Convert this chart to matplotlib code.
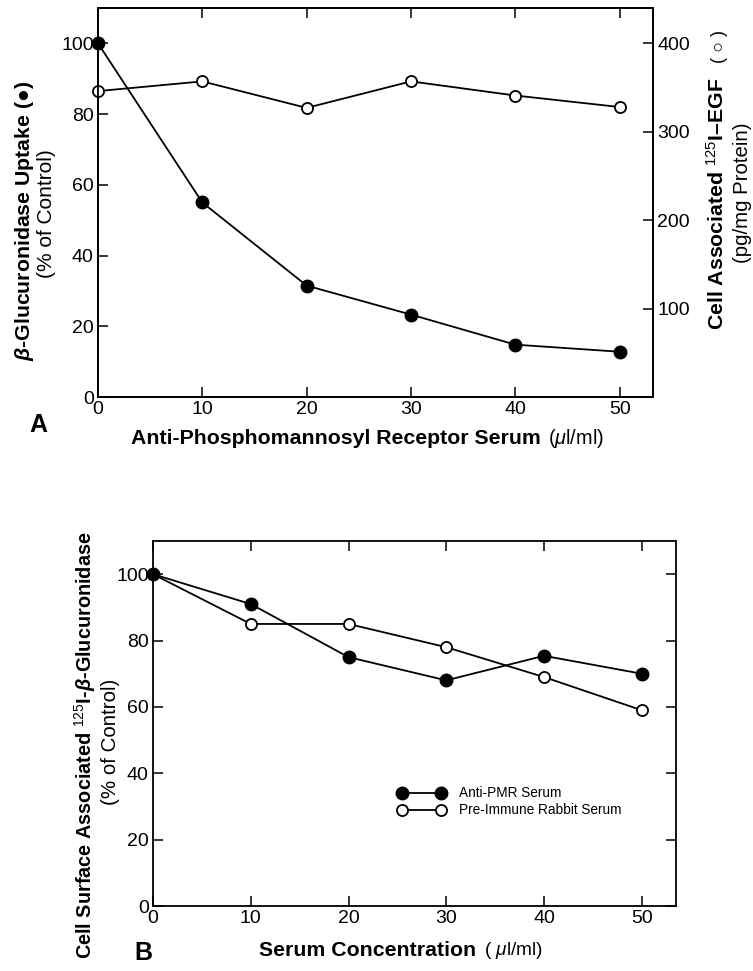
import matplotlib
matplotlib.use("Agg")
import matplotlib.pyplot as plt

plt.rcParams['font.family'] = ['Liberation Sans', 'DejaVu Sans']
plt.rcParams['mathtext.fontset'] = 'custom'
plt.rcParams['mathtext.rm'] = 'Liberation Sans'
plt.rcParams['mathtext.it'] = 'Liberation Sans:italic'
plt.rcParams['mathtext.bf'] = 'Liberation Sans:bold:italic'

# Panel A data
serum_a = [0, 10, 20, 30, 40, 50]
uptake_pct = [100, 55, 31.5, 23.3, 14.8, 12.8]        # filled, left axis
egf_bound = [346, 357, 327, 357, 341, 328]           # open, right axis

# Panel B data
serum_b = [0, 10, 20, 30, 40, 50]
anti_pmr = [100, 91, 75, 68, 75.4, 70]
pre_immune = [100, 85, 85, 78, 69, 59]

W, H = 753, 971
fig = plt.figure(figsize=(W / 100, H / 100), dpi=100)


def box(x0, y0, x1, y1):
    # pixel box (top-left origin) -> figure fraction rect
    return [x0 / W, 1 - y1 / H, (x1 - x0) / W, (y1 - y0) / H]


def fx(x):
    return x / W


def fy(y):
    return 1 - y / H


tick_fs = 14
lw = 1.3

# ---------------- Panel A ----------------
ax = fig.add_axes(box(98, 8, 653, 397))
ax.plot(serum_a, uptake_pct, color='black', lw=lw, marker='o', ms=9,
        mfc='black', mec='black', clip_on=False, zorder=4)
ax.set_xlim(0, 53.2)
ax.set_ylim(0, 110)
ax.set_xticks([0, 10, 20, 30, 40, 50])
ax.set_yticks([0, 20, 40, 60, 80, 100])
ax.tick_params(direction='in', length=7, width=1.1, labelsize=tick_fs, top=True,
               right=False, pad=3)
ax.tick_params(axis='x', labeltop=False)
for s in ax.spines.values():
    s.set_linewidth(lw)

ax2 = ax.twinx()
ax2.plot(serum_a, egf_bound, color='black', lw=lw, marker='o', ms=8,
         mfc='white', mec='black', mew=1.3, clip_on=False, zorder=3)
ax2.set_ylim(0, 440)
ax2.set_yticks([100, 200, 300, 400])
ax2.tick_params(direction='in', length=7, width=1.1, labelsize=tick_fs, pad=3)
for s in ax2.spines.values():
    s.set_linewidth(lw)
ax.set_zorder(ax2.get_zorder() + 1)
ax.patch.set_visible(False)

fig.text(fx(38), fy(425), 'A', fontsize=18, fontweight='bold', ha='center', va='center')
fig.text(fx(541), fy(438), 'Anti-Phosphomannosyl Receptor Serum', fontsize=15.3,
         fontweight='bold', ha='right', va='center')
fig.text(fx(548), fy(438), r'($\mathit{\mu}$l/ml)', fontsize=14.3, ha='left', va='center')

fig.text(fx(25), fy(221), r'$\mathbf{\beta}$-Glucuronidase Uptake (●)', fontsize=15.3,
         fontweight='bold', rotation=90, ha='center', va='center')
fig.text(fx(47), fy(214), '(% of Control)', fontsize=15, rotation=90,
         ha='center', va='center')

fig.text(fx(717), fy(330), r'Cell Associated $^{125}$I–EGF', fontsize=15.3,
         fontweight='bold', rotation=90, ha='center', va='bottom')
fig.text(fx(719), fy(30), '( ○ )', fontsize=13, rotation=90, ha='center', va='top')
fig.text(fx(742), fy(193), '(pg/mg Protein)', fontsize=14.7, rotation=90,
         ha='center', va='center')

# ---------------- Panel B ----------------
bx = fig.add_axes(box(153, 541, 676, 906))
bx.plot(serum_b, pre_immune, color='black', lw=lw, marker='o', ms=8,
        mfc='white', mec='black', mew=1.3, clip_on=False, zorder=3,
        label='Pre-Immune Rabbit Serum')
bx.plot(serum_b, anti_pmr, color='black', lw=lw, marker='o', ms=9,
        mfc='black', mec='black', clip_on=False, zorder=4,
        label='Anti-PMR Serum')
bx.set_xlim(0, 53.5)
bx.set_ylim(0, 110)
bx.set_xticks([0, 10, 20, 30, 40, 50])
bx.set_yticks([0, 20, 40, 60, 80, 100])
bx.tick_params(direction='in', length=7, width=1.1, labelsize=tick_fs, top=True,
               right=True, pad=3)
for s in bx.spines.values():
    s.set_linewidth(lw)

handles, labels = bx.get_legend_handles_labels()
bx.legend(handles[::-1], labels[::-1], loc='upper left', bbox_to_anchor=(0.468, 0.328),
          frameon=False, numpoints=2, handlelength=3.5, handletextpad=1.0,
          fontsize=9.8, labelspacing=0.22, borderpad=0, borderaxespad=0)

fig.text(fx(143), fy(953), 'B', fontsize=18, fontweight='bold', ha='center', va='center')
fig.text(fx(476), fy(950), 'Serum Concentration', fontsize=15.3,
         fontweight='bold', ha='right', va='center')
fig.text(fx(484), fy(950), r'( $\mathit{\mu}$l/ml)', fontsize=13.7, ha='left', va='center')

fig.text(fx(85), fy(745), r'Cell Surface Associated $^{125}$I-$\mathbf{\beta}$-Glucuronidase',
         fontsize=14.3, fontweight='bold', rotation=90, ha='center', va='center')
fig.text(fx(111), fy(742), '(% of Control)', fontsize=14.8, rotation=90,
         ha='center', va='center')

fig.savefig('out.png', dpi=100)
